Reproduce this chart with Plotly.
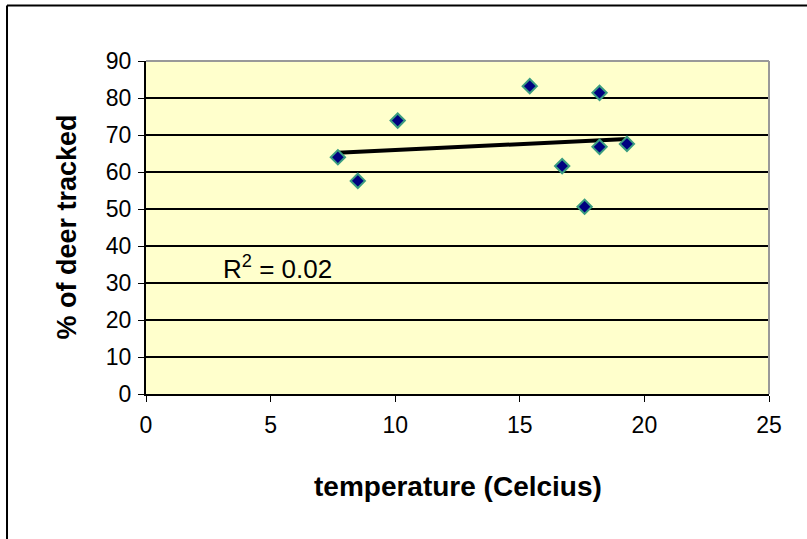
import numpy as np
import plotly.graph_objects as go

temperature = [7.7, 8.5, 10.1, 15.4, 16.7, 17.6, 18.2, 18.2, 19.3]
pct_tracked = [64.0, 57.6, 73.9, 83.2, 61.6, 50.6, 81.4, 66.8, 67.6]
x_ticks = [0, 5, 10, 15, 20, 25]
y_ticks = [0, 10, 20, 30, 40, 50, 60, 70, 80, 90]
x_title = "temperature (Celcius)"
y_title = "% of deer tracked"

xa = np.array(temperature)
ya = np.array(pct_tracked)
slope, intercept = np.polyfit(xa, ya, 1)
pred = slope * xa + intercept
r2 = 1 - np.sum((ya - pred) ** 2) / np.sum((ya - ya.mean()) ** 2)
trend_x = [xa.min(), xa.max()]
trend_y = [slope * v + intercept for v in trend_x]

font = "Liberation Sans, Arial, sans-serif"

fig = go.Figure()
fig.add_trace(go.Scatter(
    x=trend_x, y=trend_y, mode="lines",
    line=dict(color="black", width=4), showlegend=False, hoverinfo="skip"))
fig.add_trace(go.Scatter(
    x=temperature, y=pct_tracked, mode="markers",
    marker=dict(symbol="diamond", size=11, color="#000080",
                line=dict(color="#3A9C80", width=2)),
    showlegend=False))

fig.add_annotation(x=3.0, y=34.3, xref="x", yref="y", xanchor="left",
                   text=f"R<sup>2</sup> = {r2:.2f}",
                   showarrow=False, font=dict(family=font, size=26, color="black"))

# axis titles
fig.add_annotation(x=0.5, y=-0.2763, xref="paper", yref="paper", xanchor="center",
                   yanchor="middle", text=f"<b>{x_title}</b>", showarrow=False,
                   font=dict(family=font, size=28, color="black"))
fig.add_annotation(x=-0.1284, y=0.5, xref="paper", yref="paper", xanchor="center",
                   yanchor="middle", text=f"<b>{y_title}</b>", textangle=-90,
                   showarrow=False, font=dict(family=font, size=27, color="black"))

# plot-area gray border (top and right)
fig.add_shape(type="line", xref="paper", yref="paper", x0=0, x1=1, y0=1, y1=1,
              line=dict(color="#999999", width=2), layer="above")
fig.add_shape(type="line", xref="paper", yref="paper", x0=1, x1=1, y0=0, y1=1,
              line=dict(color="#999999", width=2), layer="above")
# outer chart frame
fig.add_shape(type="line", xref="paper", yref="paper", x0=-0.2231, x1=1.2, y0=1.1667, y1=1.1667,
              line=dict(color="black", width=2), layer="above")
fig.add_shape(type="line", xref="paper", yref="paper", x0=-0.2231, x1=-0.2231, y0=-0.6, y1=1.1667,
              line=dict(color="black", width=2), layer="above")

fig.update_xaxes(range=[0, 25], tickvals=x_ticks, showgrid=False, zeroline=False,
                 showline=True, linecolor="black", linewidth=2,
                 ticks="outside", ticklen=6, tickcolor="black", tickwidth=1,
                 ticklabelstandoff=3,
                 tickfont=dict(family=font, size=23, color="black"))
fig.update_yaxes(range=[0, 90], tickvals=y_ticks, showgrid=True, gridcolor="black",
                 gridwidth=2, zeroline=False,
                 showline=True, linecolor="black", linewidth=2,
                 ticks="outside", ticklen=6, tickcolor="black", tickwidth=1,
                 ticklabelstandoff=2,
                 tickfont=dict(family=font, size=23, color="black"))

fig.update_layout(width=807, height=539, margin=dict(l=146, r=38, t=61, b=145),
                  plot_bgcolor="#FFFFCC", paper_bgcolor="white")

fig.write_html("out.html", config={"displayModeBar": False},
               post_script="document.body.style.margin='0px';")
